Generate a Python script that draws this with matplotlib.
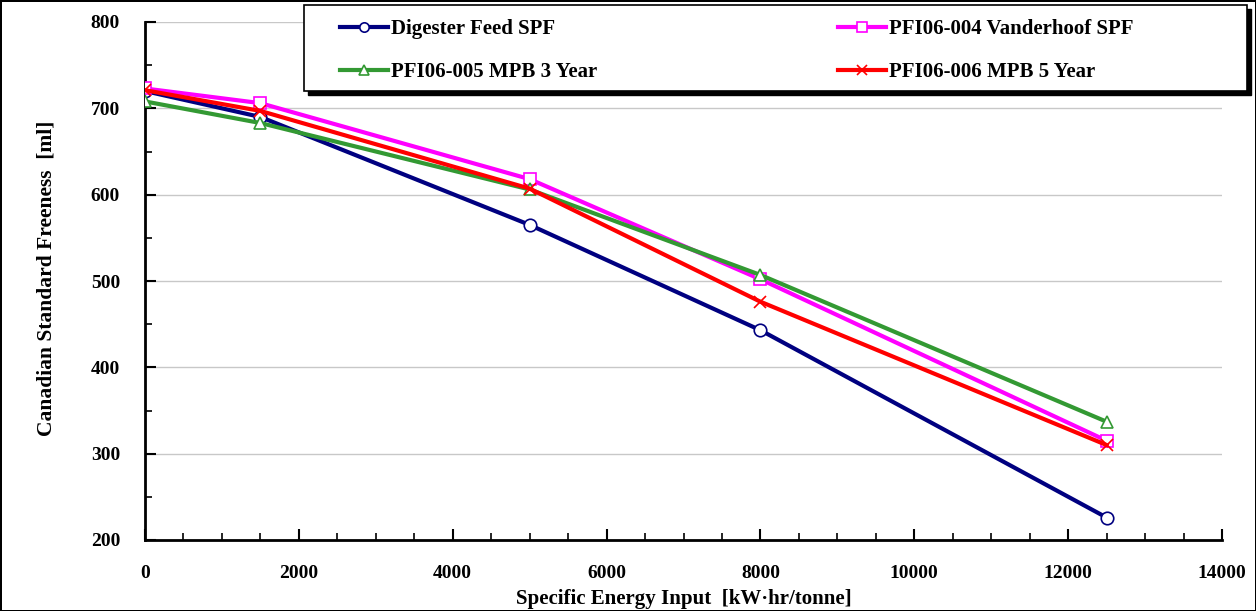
import numpy as np
import matplotlib
matplotlib.use("Agg")
from matplotlib import pyplot as plt
from matplotlib.ticker import MultipleLocator
from matplotlib.patches import Rectangle

plt.rcParams['font.family'] = ['Liberation Serif', 'DejaVu Serif']
plt.rcParams['font.weight'] = 'bold'

energy = [0, 1500, 5000, 8000, 12500]
digester = [720, 690, 565, 443, 226]
vanderhoof = [723, 706, 618, 502, 315]
mpb3 = [708, 683, 606, 507, 337]
mpb5 = [721, 697, 607, 476, 310]

series = [
    ("Digester Feed SPF", digester, '#000080', 'o'),
    ("PFI06-004 Vanderhoof SPF", vanderhoof, '#FF00FF', 's'),
    ("PFI06-005 MPB 3 Year", mpb3, '#339933', '^'),
    ("PFI06-006 MPB 5 Year", mpb5, '#FF0000', 'x'),
]

W, H = 1256, 611
fig = plt.figure(figsize=(W / 100, H / 100), dpi=100, edgecolor='black', linewidth=2)
ax = fig.add_axes([145/W, 1 - 540/H, 1077/W, 518/H])

lines = []
for name, vals, col, mk in series:
    ln, = ax.plot(energy, vals, color=col, lw=3, marker=mk, ms=9,
                  mfc='white' if mk != 'x' else col, mec=col, mew=1.2,
                  label=name, zorder=3)
    lines.append(ln)

ax.set_xlim(0, 14000)
ax.set_ylim(200, 800)
ax.xaxis.set_major_locator(MultipleLocator(2000))
ax.xaxis.set_minor_locator(MultipleLocator(500))
ax.yaxis.set_major_locator(MultipleLocator(100))
ax.yaxis.set_minor_locator(MultipleLocator(50))
ax.tick_params(which='major', direction='in', length=8, width=1.5, labelsize=14, pad=18)
ax.tick_params(which='minor', direction='in', length=5, width=1.2)
ax.grid(axis='y', which='major', color='#c8c8c8', lw=1, zorder=0)

for s in ['top', 'right']:
    ax.spines[s].set_visible(False)
for s in ['left', 'bottom']:
    ax.spines[s].set_linewidth(2)

ax.set_xlabel("Specific Energy Input  [kW·hr/tonne]", fontsize=15, fontweight='bold')
ax.set_ylabel("Canadian Standard Freeness  [ml]", fontsize=15.5, fontweight='bold')
ax.xaxis.set_label_coords(0.5, -0.095)
ax.yaxis.set_label_coords(-0.082, 0.506)

# legend box with hard black shadow
fig.patches.append(Rectangle((308/W, 1 - 95/H), 943/W, 86/H, transform=fig.transFigure,
                             fc='black', ec='black', zorder=1))
fig.patches.append(Rectangle((304/W, 1 - 91/H), 943/W, 86/H, transform=fig.transFigure,
                             fc='white', ec='black', lw=1.2, zorder=1.1))

leg_kw = dict(loc='upper left', frameon=False, fontsize=15, borderpad=0, borderaxespad=0,
              handlelength=2.3, handletextpad=0.15, labelspacing=1.12, markerscale=0.75)
fig.legend([lines[0], lines[2]], [series[0][0], series[2][0]],
           bbox_to_anchor=(340/W, 1 - 19/H), **leg_kw)
fig.legend([lines[1], lines[3]], [series[1][0], series[3][0]],
           bbox_to_anchor=(838/W, 1 - 19/H), **leg_kw)

fig.savefig("out.png", dpi=100, edgecolor=fig.get_edgecolor())
